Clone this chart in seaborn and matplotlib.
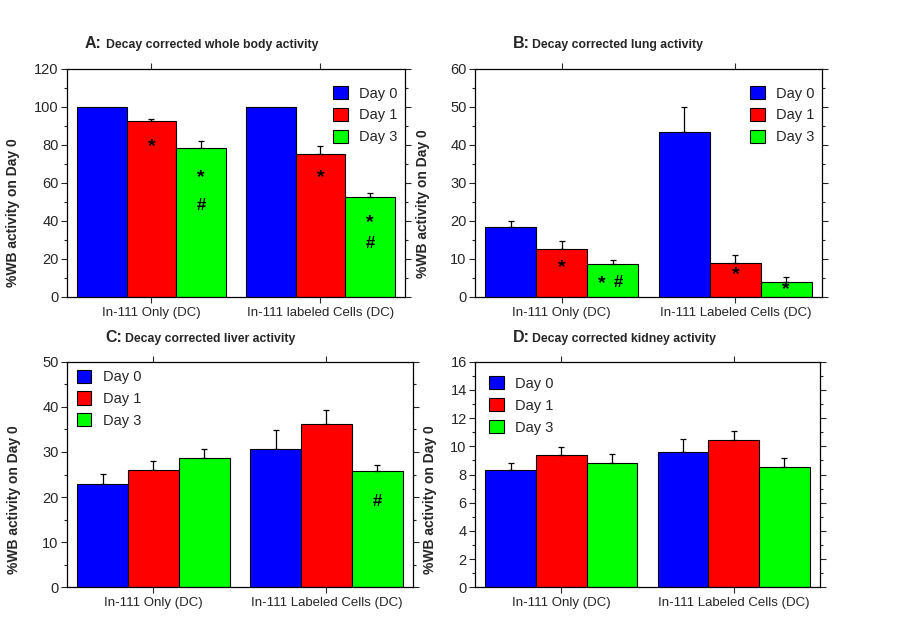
import pandas as pd
import seaborn as sns
import matplotlib.pyplot as plt
from matplotlib.patches import Patch
from matplotlib.ticker import MultipleLocator

# dados
days = ["Day 0", "Day 1", "Day 3"]
colors = ["#0000FF", "#FF0000", "#00FF00"]

groups_a = ["In-111 Only (DC)", "In-111 labeled Cells (DC)"]
groups = ["In-111 Only (DC)", "In-111 Labeled Cells (DC)"]

# media por dia: [Only, Labeled Cells]
wb_mean = [[100, 100], [92.7, 75.4], [78.6, 52.5]]
wb_err = [[0, 0], [0.9, 4.1], [3.5, 2.1]]

lung_mean = [[18.5, 43.3], [12.5, 8.9], [8.6, 4.0]]
lung_err = [[1.6, 6.6], [2.1, 2.1], [1.1, 1.3]]

liver_mean = [[23.0, 30.6], [26.1, 36.2], [28.6, 25.8]]
liver_err = [[2.2, 4.3], [1.8, 3.0], [2.0, 1.4]]

kidney_mean = [[8.3, 9.6], [9.38, 10.47], [8.79, 8.53]]
kidney_err = [[0.5, 0.9], [0.54, 0.61], [0.66, 0.67]]

# marcas de significancia: (grupo, dia, texto, y, deslocamento em x)
marks_a = [(0, 1, "*", 79, 0), (0, 2, "*", 63, 0), (0, 2, "#", 48, 0),
           (1, 1, "*", 63, 0), (1, 2, "*", 39, 0), (1, 2, "#", 28, 0)]
marks_b = [(0, 1, "*", 7.8, 0), (0, 2, "*", 3.6, -0.06), (0, 2, "#", 3.9, 0.035),
           (1, 1, "*", 6.0, 0), (1, 2, "*", 2.0, 0)]
marks_c = [(1, 2, "#", 19, 0)]
marks_d = []

panels = [
    ("A:", "Decay corrected whole body activity", groups_a, wb_mean, wb_err, marks_a,
     120, 20, 10, [0.0744, 0.5233, 0.3756, 0.366], (0.787, 0.925), (-0.139, 0.37), (85, 106, 48)),
    ("B:", "Decay corrected lung activity", groups, lung_mean, lung_err, marks_b,
     60, 10, 5, [0.5278, 0.5233, 0.3856, 0.366], (0.793, 0.925), (-0.13, 0.41), (513, 532, 48)),
    ("C:", "Decay corrected liver activity", groups, liver_mean, liver_err, marks_c,
     50, 10, 5, [0.0744, 0.0573, 0.3844, 0.362], (0.028, 0.965), (-0.133, 0.39), (105, 125, 342)),
    ("D:", "Decay corrected kidney activity", groups, kidney_mean, kidney_err, marks_d,
     16, 2, 1, [0.5278, 0.0573, 0.3833, 0.362], (0.041, 0.935), (-0.11, 0.39), (513, 532, 342)),
]

sns.set_style("ticks")
plt.rcParams["font.family"] = ["Liberation Sans", "DejaVu Sans"]

fig = plt.figure(figsize=(9, 6.23), dpi=100)

for letter, title, cats, means, errs, marks, ymax, major, minor, pos, leg_xy, lab_xy, tpos in panels:
    ax = fig.add_axes(pos)
    rows = []
    for i, d in enumerate(days):
        for j, g in enumerate(cats):
            rows.append({"grupo": g, "dia": d, "valor": means[i][j]})
    df = pd.DataFrame(rows)

    sns.barplot(data=df, x="grupo", y="valor", hue="dia", order=cats, hue_order=days,
                palette=colors, width=0.88, gap=0, edgecolor="black", linewidth=0.8,
                saturation=1, errorbar=None, legend=False, ax=ax)
    bar_conts = list(ax.containers)

    # barras de erro so para cima
    for i, cont in enumerate(bar_conts):
        for j, bar in enumerate(cont):
            if errs[i][j] <= 0:
                continue
            xc = bar.get_x() + bar.get_width() / 2
            ax.errorbar(xc, means[i][j], yerr=[[0], [errs[i][j]]], fmt="none",
                        ecolor="black", elinewidth=0.9, capsize=2.5, capthick=0.9, zorder=1)

    for g, d, txt, yv, dx in marks:
        bar = bar_conts[d][g]
        xc = bar.get_x() + bar.get_width() / 2 + dx
        ax.text(xc, yv, txt, ha="center", va="center", fontsize=14 if txt == "*" else 12,
                fontweight="bold", color="black")

    ax.set_ylim(0, ymax)
    ax.set_xlim(-0.5, 1.5)
    ax.yaxis.set_major_locator(MultipleLocator(major))
    ax.yaxis.set_minor_locator(MultipleLocator(minor))
    ax.tick_params(axis="y", which="major", direction="out", length=4, width=0.8,
                   right=True, labelsize=10.5, pad=2)
    ax.tick_params(axis="y", which="minor", direction="out", length=2.5, width=0.8, right=True)
    ax.tick_params(axis="x", which="major", direction="out", length=4, width=0.8,
                   top=True, labelsize=9.5, pad=3)
    ax.tick_params(axis="x", which="minor", bottom=False, top=False)
    for s in ax.spines.values():
        s.set_visible(True)
        s.set_linewidth(0.9)
        s.set_color("black")

    ax.set_xlabel("")
    ax.set_ylabel("%WB activity on Day 0", fontsize=10, fontweight="bold")
    ax.yaxis.set_label_coords(*lab_xy)

    handles = [Patch(facecolor=c, edgecolor="black", linewidth=0.8) for c in colors]
    ax.legend(handles, days, frameon=False, loc="upper left", bbox_to_anchor=leg_xy,
              handlelength=1.0, handleheight=1.0, fontsize=10.5, labelspacing=0.5,
              handletextpad=0.8, borderpad=0, borderaxespad=0)

    fig.text(tpos[0] / 900, 1 - tpos[2] / 623, letter, fontsize=11.5, fontweight="bold",
             ha="left", va="baseline")
    fig.text(tpos[1] / 900, 1 - tpos[2] / 623, title, fontsize=8.8, fontweight="bold",
             ha="left", va="baseline")

plt.savefig("out.png", dpi=100)
